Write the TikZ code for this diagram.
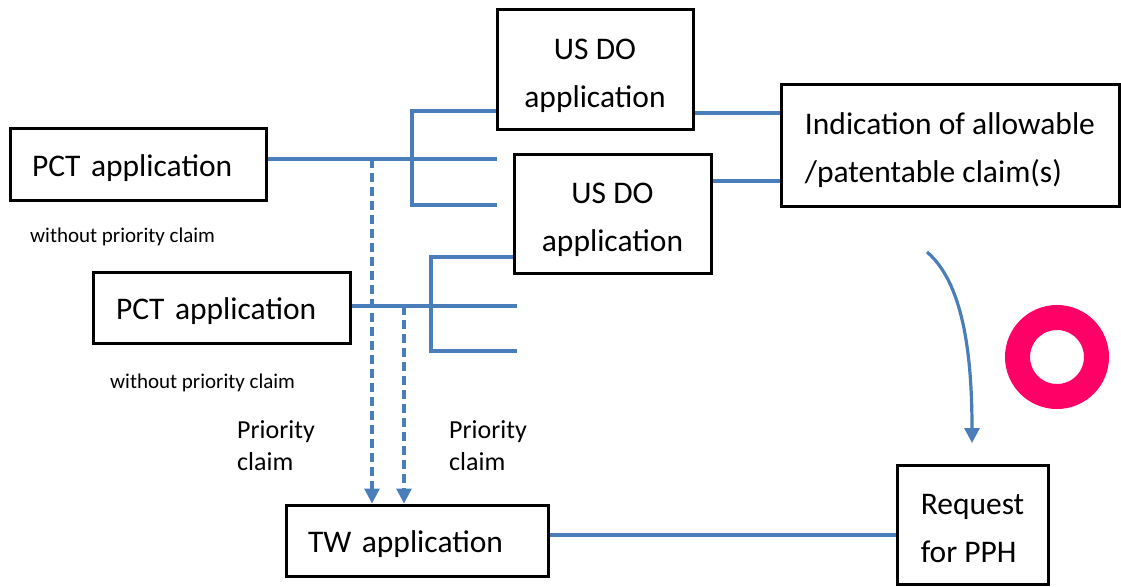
\documentclass[tikz,border=0pt]{standalone}
\usepackage{fontspec}
\setmainfont{Carlito}
\usetikzlibrary{arrows.meta}
\definecolor{lblue}{HTML}{4A7EBB}
\definecolor{ringpink}{HTML}{FF0066}
\newcommand\lowered[1]{\raisebox{-4pt}[\height][\depth]{#1}}
\begin{document}
\begin{tikzpicture}[x=1pt,y=-1pt,
 box/.style={draw=black, line width=3pt, inner sep=0pt, font=\fontsize{31.5}{48}\selectfont, align=center},
 leftbox/.style={box, align=left},
 conn/.style={draw=lblue, line width=3.2pt},
 tip/.style={-{Triangle[width=15pt,length=15pt]}},
 dconn/.style={conn, dash pattern=on 9pt off 5pt, tip},
 note/.style={font=\fontsize{21}{25}\selectfont, inner sep=0pt, anchor=west},
 plabel/.style={font=\fontsize{26}{32}\selectfont, align=left, inner sep=0pt, anchor=west},
]
\useasboundingbox (0,0) rectangle (1121,586);

% boxes
\node[leftbox, minimum width=256pt, minimum height=72pt, text width=212pt, inner xsep=22pt] (pct1) at (138,164) {\lowered{PCT application}};
\node[leftbox, minimum width=257pt, minimum height=71pt, text width=211pt, inner xsep=23pt] (pct2) at (221.5,307.5) {\lowered{PCT application}};
\node[box, minimum width=196pt, minimum height=119pt] (us1) at (595,69.5) {\lowered{\begin{tabular}{@{}c@{}}US DO\\application\end{tabular}}};
\node[box, minimum width=197pt, minimum height=119pt] (us2) at (612.5,213.5) {\lowered{\begin{tabular}{@{}c@{}}US DO\\application\end{tabular}}};
\node[box, minimum width=338pt, minimum height=122pt] (ind) at (950,145) {\lowered{\begin{tabular}{@{}l@{}}Indication of allowable\\/patentable claim(s)\end{tabular}}};
\node[leftbox, minimum width=262pt, minimum height=71pt, text width=218pt, inner xsep=22pt] (tw) at (417,540.5) {\lowered{TW application}};
\node[box, minimum width=151pt, minimum height=119pt] (req) at (972.5,524.5) {\lowered{\begin{tabular}{@{}l@{}}Request\\for PPH\end{tabular}}};

% notes
\node[note] (n1) at (30,237) {without priority claim};
\node[note] (n2) at (110,383) {without priority claim};
\node[plabel] (p1) at (237,446) {Priority\\claim};
\node[plabel] (p2) at (449,446) {Priority\\claim};

% coordinates for the branch network of PCT 1
\coordinate (c1) at (372,159);
\coordinate (j1) at (412,159);
\coordinate (e1) at (497,159);
\coordinate (t1) at (412,111);
\coordinate (b1) at (412,205);
\coordinate (eb1) at (497,205);
% PCT 2
\coordinate (c2) at (404,306);
\coordinate (j2) at (431,306);
\coordinate (e2) at (517,306);
\coordinate (t2) at (431,257);
\coordinate (b2) at (431,351);
\coordinate (eb2) at (517,351);
% other levels
\coordinate (k1) at (740,113);
\coordinate (k2) at (740,181);
\coordinate (k3) at (700,535);
\coordinate (cs) at (927,252);
\coordinate (ce) at (972,443);

% connectors PCT 1
\draw[conn] (pct1.east |- j1) -- (e1);
\draw[conn] (us1.west |- t1) -- (t1) -- (b1) -- (eb1);
\draw[dconn] (c1) -- (c1 |- tw.north);
% connectors PCT 2
\draw[conn] (pct2.east |- j2) -- (e2);
\draw[conn] (us2.west |- t2) -- (t2) -- (b2) -- (eb2);
\draw[dconn] (c2) -- (c2 |- tw.north);
% to indication
\draw[conn] (us1.east |- k1) -- (ind.west |- k1);
\draw[conn] (us2.east |- k2) -- (ind.west |- k2);
% TW to request
\draw[conn] (tw.east |- k3) -- (req.west |- k3);
% curved arrow
\draw[conn, tip] (cs) .. controls (962,282) and (972,350) .. (ce);

% ring
\draw[ringpink, line width=25pt] (1057,357) circle (39.5pt);
\end{tikzpicture}
\end{document}
